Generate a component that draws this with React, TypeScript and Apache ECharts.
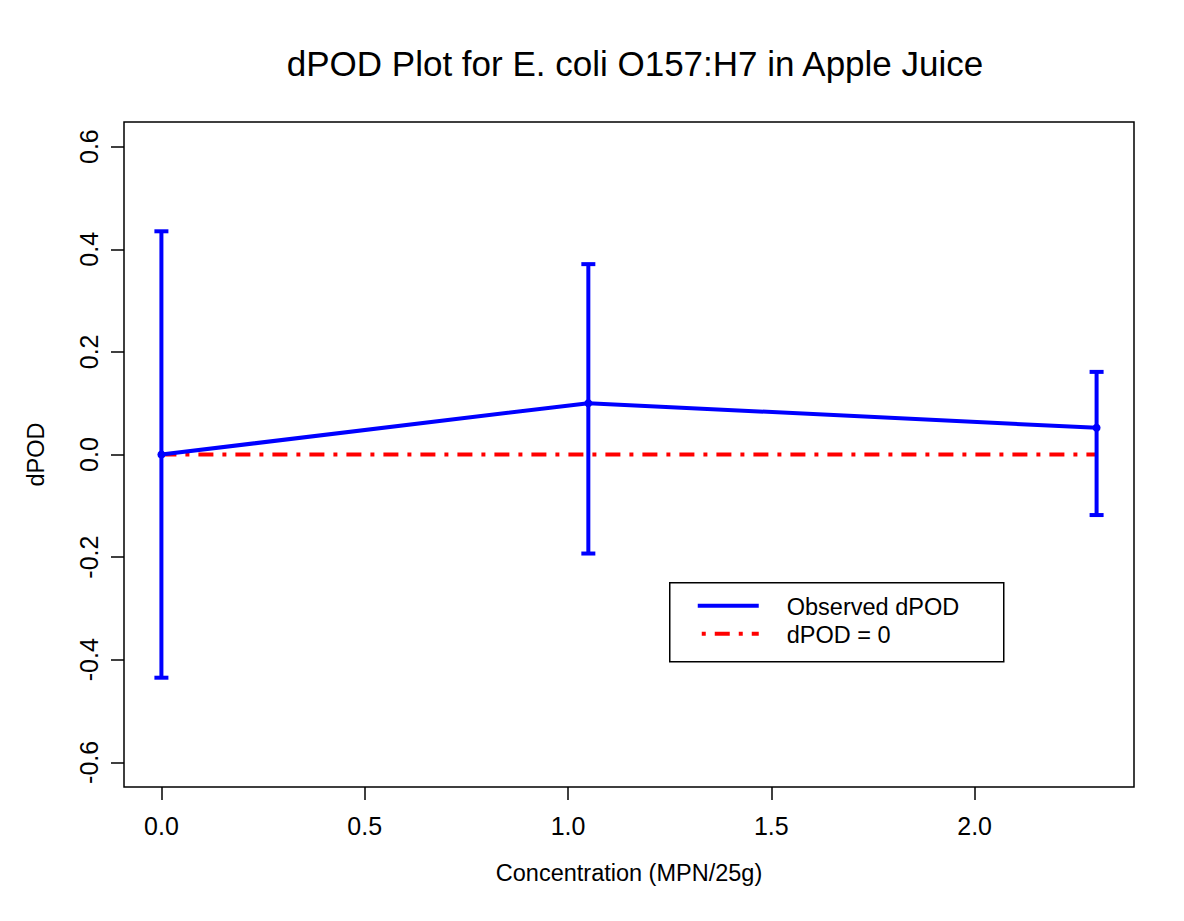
import React, { useEffect, useRef } from "react";
import * as echarts from "echarts";

const concentration = [0, 1.05, 2.3];
const dPOD = [0, 0.1, 0.052];
const lowerCI = [-0.435, -0.193, -0.118];
const upperCI = [0.435, 0.371, 0.161];
const zeroLine = [0, 0];
const zeroLineX = [0, 2.3];
const xTicks = [0, 0.5, 1.0, 1.5, 2.0];
const yTicks = [-0.6, -0.4, -0.2, 0, 0.2, 0.4, 0.6];

const FONT = "Liberation Sans, Arial, sans-serif";

export default function App() {
  const ref = useRef<HTMLDivElement>(null);
  useEffect(() => {
    document.body.style.margin = "0";
    const chart = echarts.init(ref.current!, null, { renderer: "svg" });
    const obs = concentration.map((c, i) => [c, dPOD[i]]);
    const zero = zeroLineX.map((c, i) => [c, zeroLine[i]]);
    const bars = concentration.map((c, i) => [c, lowerCI[i], upperCI[i]]);
    chart.setOption({
      animation: false,
      backgroundColor: "#fff",
      title: {
        text: "dPOD Plot for E. coli O157:H7 in Apple Juice",
        left: 630,
        top: 41,
        textAlign: "center",
        textStyle: { fontFamily: FONT, fontSize: 35, fontWeight: "normal", color: "#000" },
      },
      grid: {
        left: 124,
        right: 50,
        top: 122,
        bottom: 134,
        show: true,
        borderColor: "#000",
        borderWidth: 1.5,
        backgroundColor: "transparent",
      },
      xAxis: {
        type: "value",
        min: -0.092,
        max: 2.392,
        name: "Concentration (MPN/25g)",
        nameLocation: "middle",
        nameGap: 74,
        nameTextStyle: { fontFamily: FONT, fontSize: 23.5, color: "#000" },
        axisLine: { show: false, onZero: false },
        splitLine: { show: false },
        axisTick: {
          show: true,
          length: 13,
          customValues: xTicks,
          lineStyle: { color: "#000", width: 1.5 },
        },
        axisLabel: {
          customValues: xTicks,
          formatter: (v: number) => v.toFixed(1),
          fontFamily: FONT,
          fontSize: 25,
          color: "#000",
          margin: 26,
        },
      },
      yAxis: {
        type: "value",
        min: -0.648,
        max: 0.648,
        name: "dPOD",
        nameLocation: "middle",
        nameGap: 76,
        nameRotate: 90,
        nameTextStyle: { fontFamily: FONT, fontSize: 23.5, color: "#000" },
        axisLine: { show: false, onZero: false },
        splitLine: { show: false },
        axisTick: {
          show: true,
          length: 13,
          customValues: yTicks,
          lineStyle: { color: "#000", width: 1.5 },
        },
        axisLabel: {
          customValues: yTicks,
          formatter: (v: number) => v.toFixed(1),
          rotate: 90,
          fontFamily: FONT,
          fontSize: 25,
          color: "#000",
          margin: 23,
        },
      },
      series: [
        {
          name: "dPOD = 0",
          type: "line",
          data: zero,
          symbol: "none",
          lineStyle: { color: "#ff0000", width: 4, type: [15, 9, 4, 9] },
          z: 2,
        },
        {
          name: "Observed dPOD",
          type: "line",
          data: obs,
          symbol: "circle",
          symbolSize: 8,
          showSymbol: true,
          itemStyle: { color: "#0000ff" },
          lineStyle: { color: "#0000ff", width: 4 },
          z: 3,
        },
        {
          name: "CI",
          type: "custom",
          data: bars,
          z: 4,
          renderItem: (params: any, api: any) => {
            const x = api.value(0);
            const lo = api.coord([x, api.value(1)]);
            const hi = api.coord([x, api.value(2)]);
            const hw = 7;
            const style = { stroke: "#0000ff", lineWidth: 4 };
            return {
              type: "group",
              children: [
                { type: "line", shape: { x1: lo[0], y1: lo[1], x2: hi[0], y2: hi[1] }, style },
                { type: "line", shape: { x1: lo[0] - hw, y1: lo[1], x2: lo[0] + hw, y2: lo[1] }, style },
                { type: "line", shape: { x1: hi[0] - hw, y1: hi[1], x2: hi[0] + hw, y2: hi[1] }, style },
              ],
            };
          },
        },
      ],
      graphic: [
        {
          type: "group",
          left: 669,
          top: 582,
          children: [
            {
              type: "rect",
              shape: { x: 0, y: 0, width: 334, height: 79 },
              style: { fill: "#fff", stroke: "#000", lineWidth: 1.5 },
            },
            {
              type: "line",
              shape: { x1: 28, y1: 23, x2: 89, y2: 23 },
              style: { stroke: "#0000ff", lineWidth: 4 },
            },
            {
              type: "line",
              shape: { x1: 28, y1: 51, x2: 89, y2: 51 },
              style: { stroke: "#ff0000", lineWidth: 4, lineDash: [15, 9, 4, 9], lineDashOffset: 20 },
            },
            {
              type: "text",
              x: 117,
              y: 24,
              style: { text: "Observed dPOD", fontFamily: FONT, fontSize: 23.5, fill: "#000", verticalAlign: "middle" },
            },
            {
              type: "text",
              x: 117,
              y: 52,
              style: { text: "dPOD = 0", fontFamily: FONT, fontSize: 23.5, fill: "#000", verticalAlign: "middle" },
            },
          ],
        },
      ],
    });
    return () => chart.dispose();
  }, []);
  return <div ref={ref} style={{ width: 1184, height: 921 }} />;
}
